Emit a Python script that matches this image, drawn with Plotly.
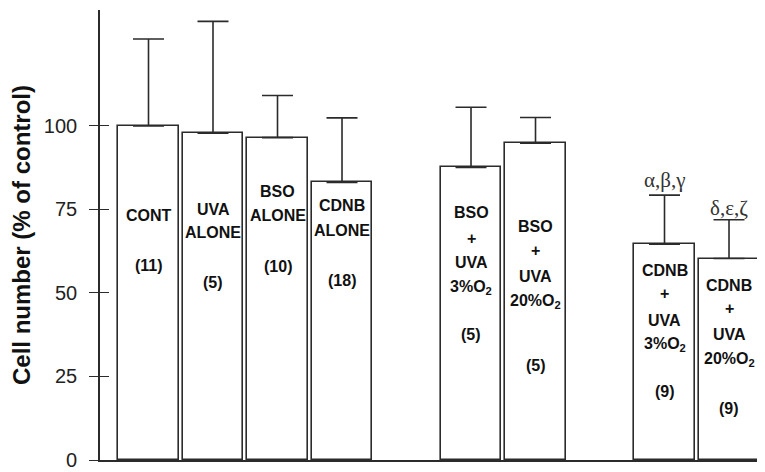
import plotly.graph_objects as go

# ---- data ----
groups = ["CONT", "UVA ALONE", "BSO ALONE", "CDNB ALONE",
          "BSO + UVA 3%O2", "BSO + UVA 20%O2",
          "CDNB + UVA 3%O2", "CDNB + UVA 20%O2"]
positions = [0, 1, 2, 3, 5, 6, 8, 9]
means = [100.0, 97.8, 96.5, 83.1, 87.6, 94.8, 64.6, 60.3]
upper = [126.0, 131.3, 109.1, 102.4, 105.6, 102.5, 79.3, 71.9]
n_counts = ["(11)", "(5)", "(10)", "(18)", "(5)", "(5)", "(9)", "(9)"]
label_lines = [
    ["CONT"],
    ["UVA", "ALONE"],
    ["BSO", "ALONE"],
    ["CDNB", "ALONE"],
    ["BSO", "+", "UVA", "3%O<sub>2</sub>"],
    ["BSO", "+", "UVA", "20%O<sub>2</sub>"],
    ["CDNB", "+", "UVA", "3%O<sub>2</sub>"],
    ["CDNB", "+", "UVA", "20%O<sub>2</sub>"],
]
# vertical placement of label lines (in y data units) and of the counts
label_y = [
    [73.1],
    [75.1, 68.1],
    [80.3, 73.3],
    [76.1, 68.6],
    [74.1, 66.4, 59.1, 51.6],
    [69.9, 62.6, 54.9, 47.4],
    [56.7, 49.9, 41.9, 34.5],
    [52.2, 45.4, 37.5, 30.2],
]
count_y = [58.1, 53.0, 58.0, 53.6, 37.7, 28.4, 20.4, 15.5]
sig_labels = ["α,β,γ", "δ,ε,ζ"]
sig_pos = [8, 9]
sig_y = [83.8, 75.4]
y_ticks = [0, 25, 50, 75, 100]

LINE = "#2b2b2b"
TXT = "#111111"

err_plus = [u - m for u, m in zip(upper, means)]

fig = go.Figure()
fig.add_trace(go.Bar(
    x=positions, y=means, width=0.945,
    marker=dict(color="white", line=dict(color=LINE, width=1.6)),
    error_y=dict(type="data", array=err_plus, arrayminus=[0] * len(means),
                 symmetric=False, color=LINE, thickness=1.6, width=15.5),
    hovertext=groups, showlegend=False,
))

annotations = []
for p, lines, ys, cnt, cy in zip(positions, label_lines, label_y, n_counts, count_y):
    for t, yy in zip(lines, ys):
        annotations.append(dict(x=p, y=yy, xref="x", yref="y", text="<b>" + t + "</b>",
                                showarrow=False,
                                font=dict(family="Liberation Sans", size=16, color=TXT),
                                xanchor="center", yanchor="middle"))
    annotations.append(dict(x=p, y=cy, xref="x", yref="y", text="<b>" + cnt + "</b>",
                            showarrow=False,
                            font=dict(family="Liberation Sans", size=16, color=TXT),
                            xanchor="center", yanchor="middle"))
for t, p, yy in zip(sig_labels, sig_pos, sig_y):
    annotations.append(dict(x=p, y=yy, xref="x", yref="y", text=t, showarrow=False,
                            font=dict(family="Liberation Serif", size=21, color="#333333"),
                            xanchor="center", yanchor="middle"))

# The page body has an 8px margin, so the figure is sized to end at the window edge.
fig.update_layout(
    width=757, height=464,
    margin=dict(l=92, r=0, t=2, b=12),
    paper_bgcolor="white", plot_bgcolor="white",
    bargap=0,
    annotations=annotations,
    xaxis=dict(range=[-0.752, 9.558], showticklabels=False, ticks="",
               showgrid=False, zeroline=False, showline=True,
               linecolor=LINE, linewidth=1.6),
    yaxis=dict(range=[0, 134.7], tickvals=y_ticks, ticks="outside", ticklen=9,
               tickwidth=1.4, tickcolor=LINE, showgrid=False, zeroline=False,
               showline=True, linecolor=LINE, linewidth=1.6,
               tickfont=dict(family="Liberation Sans", size=20, color="#222222"),
               ticklabelstandoff=8,
               title=dict(text="<b>Cell number (% of control)</b>", standoff=10,
                          font=dict(family="Liberation Sans", size=24, color="#111111"))),
    yaxis2=dict(range=[0, 134.7], overlaying="y", side="left", anchor="x",
                tickvals=y_ticks, ticks="inside", ticklen=9, tickwidth=1.4,
                tickcolor=LINE, showticklabels=False, showgrid=False,
                zeroline=False, showline=False),
)
# invisible trace so that the overlay axis (inner tick halves) is rendered
fig.add_trace(go.Scatter(x=[0], y=[0], yaxis="y2", mode="markers",
                         marker=dict(opacity=0), showlegend=False, hoverinfo="skip"))

fig.write_html("out.html")
